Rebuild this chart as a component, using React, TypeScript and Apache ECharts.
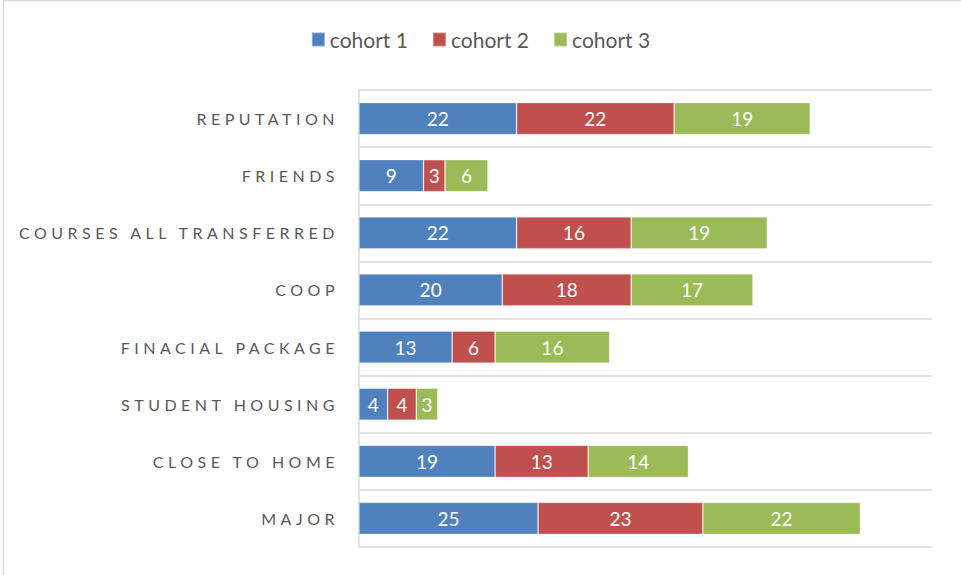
import React, { useEffect, useRef } from "react";
import * as echarts from "echarts";

const categories = [
  "MAJOR",
  "CLOSE TO HOME",
  "STUDENT HOUSING",
  "FINACIAL PACKAGE",
  "COOP",
  "COURSES ALL TRANSFERRED",
  "FRIENDS",
  "REPUTATION",
];
const seriesNames = ["cohort 1", "cohort 2", "cohort 3"];
const cohort1 = [25, 19, 4, 13, 20, 22, 9, 22];
const cohort2 = [23, 13, 4, 6, 18, 16, 3, 22];
const cohort3 = [22, 14, 3, 16, 17, 19, 6, 19];
const colors = ["#4F81BD", "#C0504D", "#9BBB59"];

const FONT = "Lato, 'Open Sans', sans-serif";

export default function App() {
  const ref = useRef<HTMLDivElement>(null);
  useEffect(() => {
    const style = document.createElement("style");
    style.textContent = `#chart svg text[text-anchor="end"] { letter-spacing: 4.5px; }`;
    document.head.appendChild(style);
    const chart = echarts.init(ref.current!, null, { renderer: "svg" });
    const values = [cohort1, cohort2, cohort3];
    chart.setOption({
      animation: false,
      backgroundColor: "#ffffff",
      graphic: [
        {
          type: "rect",
          shape: { x: 3.5, y: 0.5, width: 1000, height: 1000 },
          style: { fill: "none", stroke: "#D9D9D9", lineWidth: 1.5 },
          silent: true,
        },
      ],
      legend: {
        top: 24,
        left: "center",
        itemWidth: 13,
        itemHeight: 14,
        itemGap: 24,
        icon: "rect",
        textStyle: { color: "#595959", fontSize: 21, fontFamily: FONT },
        data: seriesNames,
      },
      grid: { left: 359, right: 29, top: 90, bottom: 28, containLabel: false },
      xAxis: {
        type: "value",
        min: 0,
        max: 80,
        show: false,
        splitLine: { show: false },
      },
      yAxis: {
        type: "category",
        data: categories,
        axisTick: { show: false },
        axisLine: { show: true, lineStyle: { color: "#D9D9D9", width: 1.5 } },
        splitLine: { show: true, lineStyle: { color: "#D9D9D9", width: 1.5 } },
        axisLabel: {
          color: "#595959",
          fontSize: 16,
          fontFamily: FONT,
          margin: 20,
        },
      },
      series: seriesNames.map((name, i) => ({
        name,
        type: "bar",
        stack: "total",
        barWidth: 32,
        data: values[i],
        itemStyle: { color: colors[i], borderColor: "rgba(255,255,255,0.35)", borderWidth: 0.8 },
        label: {
          show: true,
          position: "inside",
          color: "#ffffff",
          fontSize: 19,
          fontFamily: FONT,
        },
      })),
    });
    return () => {
      chart.dispose();
      style.remove();
    };
  }, []);
  return (
    <div
      id="chart"
      ref={ref}
      style={{ position: "fixed", left: 0, top: 0, width: 961, height: 575 }}
    />
  );
}
